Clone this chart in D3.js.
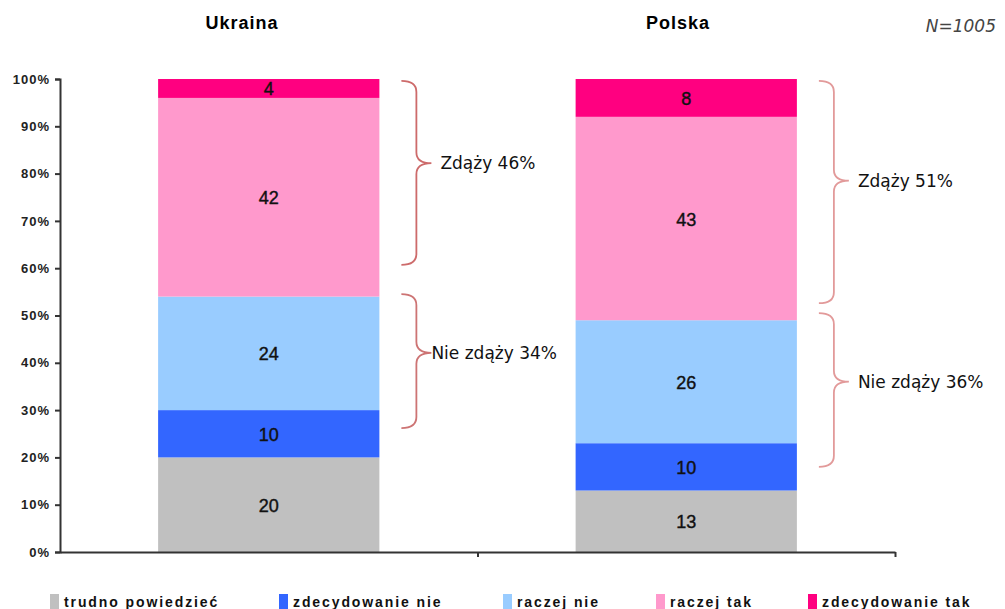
<!doctype html>
<html lang="pl">
<head>
	<meta charset="UTF-8">
	<title>Zdąży / Nie zdąży</title>
	<style>
		body { margin: 0; background: #fff; }
		svg { display: block; font-family: "Liberation Sans", Arial, sans-serif; }
		.axis path, .axis line { stroke: #333; stroke-width: 2; }
		.axis text { font-family: "Liberation Sans", Arial, sans-serif; font-weight: bold; font-size: 13px; fill: #222; letter-spacing: 1px; }
		.bar__label { font-size: 18px; fill: #111; stroke: #111; stroke-width: 0.4; text-anchor: middle; dominant-baseline: central; }
		.brace { fill: none; stroke-width: 1.8; }
		.brace__label { font-family: "DejaVu Sans", sans-serif; font-size: 17px; fill: #111; dominant-baseline: central; }
		.title { font-weight: bold; font-size: 18px; text-anchor: middle; letter-spacing: 1px; }
		.legend__label { font-weight: bold; font-size: 14px; fill: #111; letter-spacing: 1.9px; }
	</style>
</head>
<body>
	<script src="https://cdn.jsdelivr.net/npm/d3@7"></script>
	<script>
		// data
		var countries = ['Ukraina', 'Polska'],
			titleX = [242, 678],
			series = ['trudno powiedzieć', 'zdecydowanie nie', 'raczej nie', 'raczej tak', 'zdecydowanie tak'],
			colors = ['#c0c0c0', '#3366ff', '#99ccff', '#ff99cc', '#ff0080'],
			ukrainaValues = [20, 10, 24, 42, 4],
			polskaValues = [13, 10, 26, 43, 8],
			yTicks = [0, 10, 20, 30, 40, 50, 60, 70, 80, 90, 100],
			// braces: country index, from %, to %, tip %, label
			braceCountry = [0, 0, 1, 1],
			braceFrom = [60.7, 26.2, 52.6, 18.0],
			braceTo = [99.6, 54.5, 99.6, 50.5],
			braceTip = [82.2, 42.1, 78.5, 36.0],
			braceLabels = ['Zdąży 46%', 'Nie zdąży 34%', 'Zdąży 51%', 'Nie zdąży 36%'],
			braceColors = ['#cd6b6b', '#cd7474', '#e29a9a', '#e29a9a'],
			legendX = [50, 279, 503, 656, 808];

		var w = 1005,
			h = 609,
			plotLeft = 60,
			plotRight = 895,
			plotTop = 79,
			plotBottom = 552;

		var svg = d3.select('body')
			.append('svg')
			.attr('width', w)
			.attr('height', h);

		var xScale = d3.scaleBand()
			.domain(countries)
			.range([plotLeft, plotRight])
			.paddingInner(0.47)
			.paddingOuter(0.235);

		var yScale = d3.scaleLinear()
			.domain([0, 100])
			.range([plotBottom, plotTop]);

		var valuesByCountry = [ukrainaValues, polskaValues];

		// stacked segments
		var segments = [];
		countries.forEach(function(c, ci) {
			var acc = 0;
			valuesByCountry[ci].forEach(function(v, si) {
				segments.push({ country: c, series: si, y0: acc, y1: acc + v, value: v });
				acc += v;
			});
		});

		svg.selectAll('rect.bar')
			.data(segments)
			.enter()
			.append('rect')
			.attr('class', 'bar')
			.attr('x', function(d) { return xScale(d.country); })
			.attr('width', xScale.bandwidth())
			.attr('y', function(d) { return yScale(d.y1); })
			.attr('height', function(d) { return yScale(d.y0) - yScale(d.y1); })
			.attr('fill', function(d) { return colors[d.series]; });

		svg.selectAll('text.bar__label')
			.data(segments)
			.enter()
			.append('text')
			.attr('class', 'bar__label')
			.attr('x', function(d) { return xScale(d.country) + xScale.bandwidth() / 2; })
			.attr('y', function(d) { return yScale((d.y0 + d.y1) / 2) + 1; })
			.text(function(d) { return d.value; });

		// axes
		svg.append('g')
			.attr('class', 'axis')
			.attr('transform', 'translate(' + plotLeft + ',0)')
			.call(d3.axisLeft(yScale)
				.tickValues(yTicks)
				.tickSize(5)
				.tickPadding(5)
				.tickFormat(function(d) { return d + '%'; }));

		var xLine = d3.scaleLinear().domain([0, countries.length]).range([plotLeft, plotRight]);
		svg.append('g')
			.attr('class', 'axis')
			.attr('transform', 'translate(0,' + plotBottom + ')')
			.call(d3.axisBottom(xLine)
				.tickValues(d3.range(1, countries.length + 1))
				.tickSize(5)
				.tickSizeOuter(0)
				.tickFormat(''));

		// braces
		var bracePath = function(x0, yt, yb, ym) {
			var xv = x0 + 15,
				xt = x0 + 30,
				r = 11;
			return 'M' + x0 + ',' + yt +
				'Q' + xv + ',' + yt + ' ' + xv + ',' + (yt + r) +
				'L' + xv + ',' + (ym - r) +
				'Q' + xv + ',' + ym + ' ' + xt + ',' + ym +
				'Q' + xv + ',' + ym + ' ' + xv + ',' + (ym + r) +
				'L' + xv + ',' + (yb - r) +
				'Q' + xv + ',' + yb + ' ' + x0 + ',' + yb;
		};

		braceLabels.forEach(function(label, i) {
			var c = countries[braceCountry[i]],
				x0 = xScale(c) + xScale.bandwidth() + 22,
				yt = yScale(braceTo[i]),
				yb = yScale(braceFrom[i]),
				ym = yScale(braceTip[i]);
			svg.append('path')
				.attr('class', 'brace')
				.attr('stroke', braceColors[i])
				.attr('d', bracePath(x0, yt, yb, ym));
			svg.append('text')
				.attr('class', 'brace__label')
				.attr('x', i === 1 ? x0 + 30 : x0 + 39)
				.attr('y', ym)
				.text(label);
		});

		// titles
		svg.selectAll('text.title')
			.data(countries)
			.enter()
			.append('text')
			.attr('class', 'title')
			.attr('x', function(d, i) { return titleX[i]; })
			.attr('y', 29)
			.text(function(d) { return d; });

		svg.append('text')
			.attr('x', 996)
			.attr('y', 32)
			.attr('text-anchor', 'end')
			.style('font-family', '"DejaVu Sans", sans-serif')
			.style('font-style', 'italic')
			.style('font-size', '17px')
			.style('fill', '#444')
			.text('N=1005');

		// legend
		var legend = svg.selectAll('g.legend')
			.data(series)
			.enter()
			.append('g')
			.attr('class', 'legend')
			.attr('transform', function(d, i) { return 'translate(' + legendX[i] + ',594)'; });

		legend.append('rect')
			.attr('width', 9)
			.attr('height', 15)
			.attr('fill', function(d, i) { return colors[i]; });

		legend.append('text')
			.attr('class', 'legend__label')
			.attr('x', 14)
			.attr('y', 13)
			.text(function(d) { return d; });
	</script>
</body>
</html>
